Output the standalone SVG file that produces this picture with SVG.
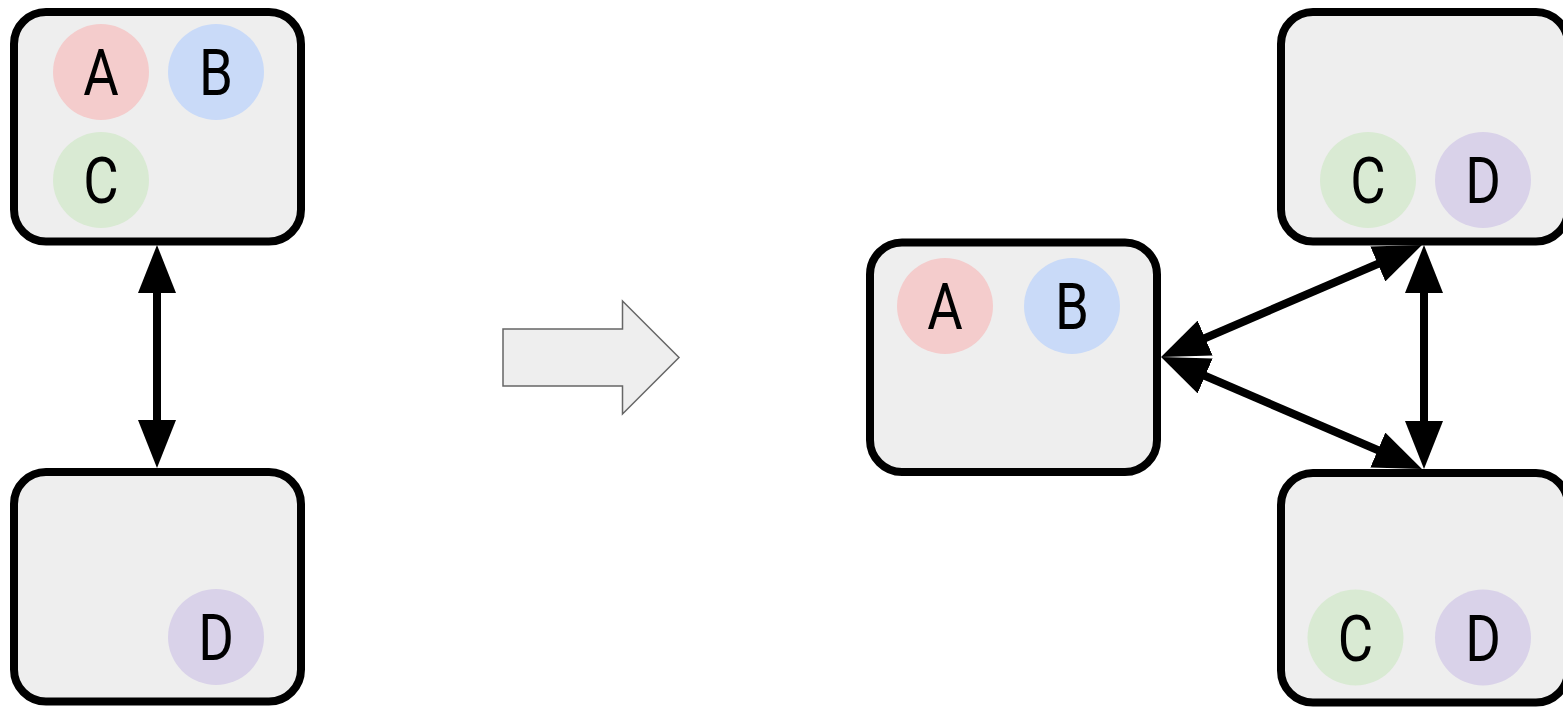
<svg xmlns="http://www.w3.org/2000/svg" width="1563" height="707" viewBox="0 0 1563 707">
  <style>
    .box { fill: #eeeeee; stroke: #000000; stroke-width: 8; }
    .lbl { font-family: Roboto, "Liberation Sans", sans-serif; font-size: 64px; fill: #000000; text-anchor: middle; }
    .a { fill: #f4cccc; }
    .b { fill: #c9daf8; }
    .c { fill: #d9ead3; }
    .d { fill: #d9d2e9; }
    .link { stroke: #000000; stroke-width: 8; fill: none; marker-start: url(#head-start); marker-end: url(#head-end); }
  </style>
  <defs>
    <marker id="head-end" viewBox="0 0 48 38" refX="8" refY="19" markerWidth="48" markerHeight="38" markerUnits="userSpaceOnUse" orient="auto">
      <path d="M0,0 L48,19 L0,38 z" fill="#000000"/>
    </marker>
    <marker id="head-start" viewBox="0 0 48 38" refX="8" refY="19" markerWidth="48" markerHeight="38" markerUnits="userSpaceOnUse" orient="auto-start-reverse">
      <path d="M0,0 L48,19 L0,38 z" fill="#000000"/>
    </marker>
  </defs>

  <!-- left: two-node layout -->
  <g id="left-top">
    <rect class="box" x="14" y="12" width="287" height="229.5" rx="32"/>
    <circle class="a" cx="101" cy="72" r="48"/>
    <text class="lbl" transform="translate(101 95) scale(0.85 1)">A</text>
    <circle class="b" cx="216" cy="72" r="48"/>
    <text class="lbl" transform="translate(216 95) scale(0.85 1)">B</text>
    <circle class="c" cx="101" cy="180" r="48"/>
    <text class="lbl" transform="translate(101 203) scale(0.85 1)">C</text>
  </g>
  <g id="left-bottom">
    <rect class="box" x="14" y="472" width="287" height="229.5" rx="32"/>
    <circle class="d" cx="216" cy="637" r="48"/>
    <text class="lbl" transform="translate(216 660) scale(0.85 1)">D</text>
  </g>

  <!-- transition arrow -->
  <g id="transition">
    <polygon points="503,329 622.5,329 622.5,301 679,357.5 622.5,414 622.5,386 503,386" fill="#eeeeee" stroke="#666666" stroke-width="1.5"/>
  </g>

  <!-- right: three-node layout -->
  <g id="right-middle">
    <rect class="box" x="870" y="242.5" width="287" height="229.5" rx="32"/>
    <circle class="a" cx="945" cy="306" r="48"/>
    <text class="lbl" transform="translate(945 329) scale(0.85 1)">A</text>
    <circle class="b" cx="1072" cy="306" r="48"/>
    <text class="lbl" transform="translate(1072 329) scale(0.85 1)">B</text>
  </g>
  <g id="right-top">
    <rect class="box" x="1281" y="12" width="287" height="229.5" rx="32"/>
    <circle class="c" cx="1368" cy="180" r="48"/>
    <text class="lbl" transform="translate(1368 203) scale(0.85 1)">C</text>
    <circle class="d" cx="1483" cy="180" r="48"/>
    <text class="lbl" transform="translate(1483 203) scale(0.85 1)">D</text>
  </g>
  <g id="right-bottom">
    <rect class="box" x="1281" y="473" width="287" height="229.5" rx="32"/>
    <circle class="c" cx="1355.5" cy="637.5" r="48"/>
    <text class="lbl" transform="translate(1355.5 660.5) scale(0.85 1)">C</text>
    <circle class="d" cx="1483" cy="637.5" r="48"/>
    <text class="lbl" transform="translate(1483 660.5) scale(0.85 1)">D</text>
  </g>

  <!-- connectors -->
  <g id="connectors">
    <line class="link" x1="157" y1="285" x2="157" y2="428"/>
    <line class="link" x1="1424" y1="285" x2="1424" y2="429"/>
    <line class="link" x1="1197.8" y1="341.2" x2="1385.2" y2="260.8"/>
    <line class="link" x1="1197.8" y1="372.8" x2="1385.2" y2="453.2"/>
  </g>
</svg>
